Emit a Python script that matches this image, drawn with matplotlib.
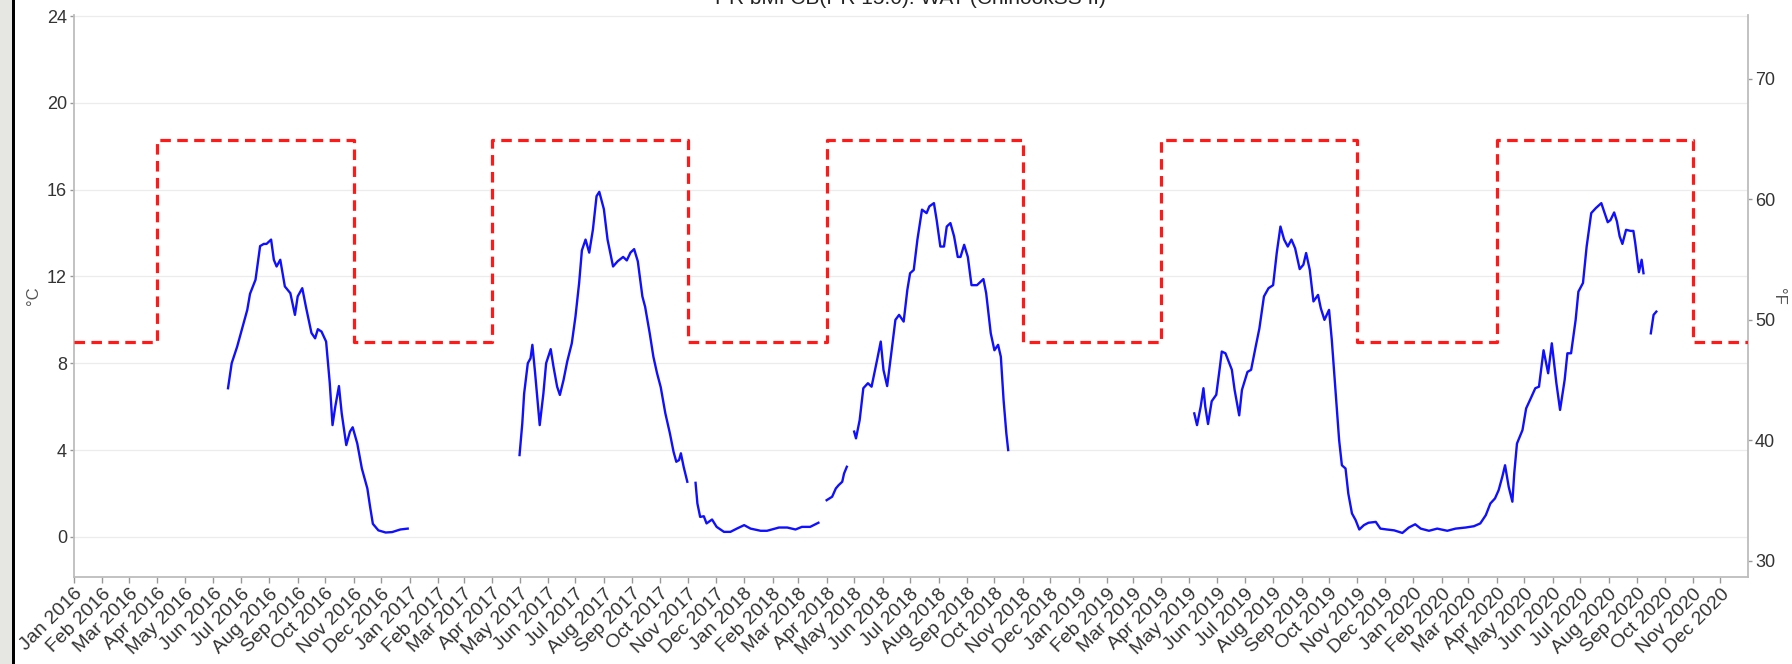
import matplotlib
matplotlib.use("Agg")
import matplotlib.pyplot as plt
import matplotlib.dates as mdates
from matplotlib.patches import Rectangle
import numpy as np
import pandas as pd

plt.rcParams["font.family"] = ["Liberation Sans", "DejaVu Sans"]

title = "PR bMI CB(PR 15.0): WAT (ChinookSS II)"

# water temperature (deg C), one list per unbroken record
wat_2016_dates = ["2016-06-17", "2016-06-21", "2016-06-27", "2016-07-02", "2016-07-08", "2016-07-11",
                  "2016-07-17", "2016-07-22", "2016-07-26", "2016-07-29", "2016-08-03", "2016-08-06",
                  "2016-08-09", "2016-08-13", "2016-08-18", "2016-08-24", "2016-08-29", "2016-09-01",
                  "2016-09-06", "2016-09-10", "2016-09-16", "2016-09-20", "2016-09-23", "2016-09-27",
                  "2016-10-02", "2016-10-06", "2016-10-09", "2016-10-12", "2016-10-16", "2016-10-19",
                  "2016-10-24", "2016-10-28", "2016-10-31", "2016-11-05", "2016-11-10", "2016-11-16",
                  "2016-11-19", "2016-11-22", "2016-11-28", "2016-12-06", "2016-12-13", "2016-12-22",
                  "2016-12-30"]
wat_2016_temp = [6.85, 8.0, 8.77, 9.54, 10.46, 11.2, 11.85, 13.4, 13.5, 13.5, 13.7, 12.77,
                 12.46, 12.77, 11.54, 11.23, 10.23, 11.08, 11.46, 10.6, 9.4, 9.15, 9.57, 9.46,
                 9.0, 7.08, 5.15, 6.0, 6.95, 5.7, 4.23, 4.85, 5.05, 4.3, 3.15, 2.23,
                 1.38, 0.6, 0.3, 0.2, 0.22, 0.34, 0.38]

wat_2017_dates = ["2017-05-01", "2017-05-04", "2017-05-06", "2017-05-10", "2017-05-13", "2017-05-15",
                  "2017-05-18", "2017-05-23", "2017-05-27", "2017-05-30", "2017-06-04", "2017-06-07",
                  "2017-06-11", "2017-06-14", "2017-06-18", "2017-06-22", "2017-06-27", "2017-07-01",
                  "2017-07-05", "2017-07-08", "2017-07-12", "2017-07-16", "2017-07-20", "2017-07-24",
                  "2017-07-27", "2017-08-01", "2017-08-05", "2017-08-11", "2017-08-16", "2017-08-22",
                  "2017-08-26", "2017-08-30", "2017-09-03", "2017-09-07", "2017-09-12", "2017-09-15",
                  "2017-09-20", "2017-09-24", "2017-09-28", "2017-10-02", "2017-10-07", "2017-10-12",
                  "2017-10-16", "2017-10-19", "2017-10-22", "2017-10-24", "2017-10-27", "2017-10-31"]
wat_2017_temp = [3.77, 5.23, 6.6, 8.0, 8.23, 8.85, 7.54, 5.15, 6.6, 8.0, 8.65, 7.85,
                 6.92, 6.54, 7.23, 8.08, 8.92, 10.15, 11.7, 13.2, 13.7, 13.1, 14.15, 15.7,
                 15.9, 15.1, 13.7, 12.46, 12.7, 12.9, 12.74, 13.1, 13.26, 12.7, 11.08, 10.6,
                 9.38, 8.3, 7.54, 6.9, 5.7, 4.77, 3.92, 3.46, 3.54, 3.85, 3.23, 2.54]

wat_winter18_dates = ["2017-11-09", "2017-11-11", "2017-11-14", "2017-11-18", "2017-11-21", "2017-11-27",
                      "2017-12-02", "2017-12-10", "2017-12-17", "2017-12-24", "2018-01-01", "2018-01-08",
                      "2018-01-19", "2018-01-26", "2018-02-08", "2018-02-17", "2018-02-26", "2018-03-05",
                      "2018-03-14", "2018-03-23"]
wat_winter18_temp = [2.49, 1.54, 0.92, 0.95, 0.62, 0.8, 0.46, 0.23, 0.23, 0.38, 0.54, 0.38,
                     0.28, 0.28, 0.43, 0.43, 0.34, 0.46, 0.46, 0.65]

wat_apr18_dates = ["2018-04-01", "2018-04-07", "2018-04-11", "2018-04-14", "2018-04-18", "2018-04-20",
                   "2018-04-23"]
wat_apr18_temp = [1.69, 1.85, 2.23, 2.38, 2.54, 2.92, 3.23]

wat_2018_dates = ["2018-05-01", "2018-05-03", "2018-05-07", "2018-05-11", "2018-05-16", "2018-05-20",
                  "2018-05-26", "2018-05-30", "2018-06-02", "2018-06-06", "2018-06-10", "2018-06-15",
                  "2018-06-19", "2018-06-24", "2018-06-28", "2018-07-01", "2018-07-05", "2018-07-09",
                  "2018-07-14", "2018-07-19", "2018-07-22", "2018-07-27", "2018-07-30", "2018-08-03",
                  "2018-08-07", "2018-08-10", "2018-08-14", "2018-08-18", "2018-08-22", "2018-08-25",
                  "2018-08-29", "2018-09-02", "2018-09-06", "2018-09-12", "2018-09-19", "2018-09-22",
                  "2018-09-27", "2018-10-01", "2018-10-05", "2018-10-08", "2018-10-11", "2018-10-14",
                  "2018-10-16"]
wat_2018_temp = [4.85, 4.54, 5.38, 6.85, 7.08, 6.92, 8.15, 9.0, 7.69, 6.95, 8.3, 10.0,
                 10.23, 9.92, 11.38, 12.15, 12.3, 13.7, 15.08, 14.92, 15.23, 15.38, 14.6, 13.38,
                 13.38, 14.3, 14.46, 13.85, 12.9, 12.9, 13.46, 12.9, 11.6, 11.6, 11.88, 11.23,
                 9.38, 8.6, 8.85, 8.3, 6.3, 4.77, 4.0]

wat_2019_dates = ["2019-05-07", "2019-05-10", "2019-05-14", "2019-05-17", "2019-05-19", "2019-05-22",
                  "2019-05-26", "2019-05-31", "2019-06-04", "2019-06-06", "2019-06-10", "2019-06-17",
                  "2019-06-20", "2019-06-25", "2019-06-28", "2019-07-04", "2019-07-08", "2019-07-13",
                  "2019-07-17", "2019-07-22", "2019-07-27", "2019-08-01", "2019-08-05", "2019-08-09",
                  "2019-08-13", "2019-08-17", "2019-08-21", "2019-08-25", "2019-08-30", "2019-09-03",
                  "2019-09-06", "2019-09-10", "2019-09-14", "2019-09-19", "2019-09-22", "2019-09-26",
                  "2019-10-01", "2019-10-04", "2019-10-08", "2019-10-12", "2019-10-15", "2019-10-19",
                  "2019-10-22", "2019-10-26", "2019-10-30", "2019-11-03", "2019-11-08", "2019-11-13",
                  "2019-11-21", "2019-11-26", "2019-12-03", "2019-12-11", "2019-12-20", "2019-12-27",
                  "2020-01-03", "2020-01-09", "2020-01-18", "2020-01-27", "2020-02-07", "2020-02-16",
                  "2020-02-27", "2020-03-07", "2020-03-14", "2020-03-20", "2020-03-25", "2020-03-30",
                  "2020-04-03", "2020-04-07", "2020-04-10", "2020-04-14", "2020-04-18", "2020-04-20",
                  "2020-04-23", "2020-04-29", "2020-05-03", "2020-05-08", "2020-05-13", "2020-05-17",
                  "2020-05-22", "2020-05-27", "2020-05-31", "2020-06-05", "2020-06-09", "2020-06-14",
                  "2020-06-17", "2020-06-21", "2020-06-26", "2020-06-29", "2020-07-04", "2020-07-08",
                  "2020-07-13", "2020-07-18", "2020-07-24", "2020-07-27", "2020-07-31", "2020-08-03",
                  "2020-08-07", "2020-08-10", "2020-08-13", "2020-08-16", "2020-08-20", "2020-08-25",
                  "2020-08-28", "2020-08-30", "2020-09-03", "2020-09-06", "2020-09-08"]
wat_2019_temp = [5.69, 5.15, 6.0, 6.85, 6.0, 5.2, 6.25, 6.55, 7.85, 8.54, 8.46, 7.7,
                 6.77, 5.6, 6.77, 7.6, 7.7, 8.77, 9.6, 11.08, 11.46, 11.6, 13.1, 14.3,
                 13.7, 13.38, 13.7, 13.3, 12.34, 12.54, 13.08, 12.3, 10.85, 11.15, 10.54, 10.0,
                 10.46, 9.08, 6.77, 4.46, 3.3, 3.15, 2.0, 1.08, 0.77, 0.34, 0.54, 0.65,
                 0.69, 0.38, 0.34, 0.3, 0.18, 0.43, 0.58, 0.38, 0.28, 0.38, 0.28, 0.38,
                 0.43, 0.49, 0.62, 1.0, 1.54, 1.77, 2.15, 2.77, 3.3, 2.3, 1.62, 2.92,
                 4.3, 4.92, 5.92, 6.38, 6.85, 6.92, 8.6, 7.54, 8.92, 7.08, 5.85, 7.23,
                 8.46, 8.46, 10.0, 11.3, 11.7, 13.38, 14.92, 15.15, 15.38, 15.0, 14.5, 14.6,
                 14.95, 14.54, 13.85, 13.5, 14.15, 14.1, 14.1, 13.54, 12.2, 12.77, 12.15]

wat_sep20_dates = ["2020-09-16", "2020-09-19", "2020-09-22"]
wat_sep20_temp = [9.38, 10.23, 10.38]

# seasonal criterion (deg C), steps at Apr 1 / Nov 1
crit_dates = ["2016-01-01", "2016-04-01", "2016-11-01", "2017-04-01", "2017-11-01", "2018-04-01",
              "2018-11-01", "2019-04-01", "2019-11-01", "2020-04-01", "2020-11-01", "2021-01-01"]
crit_temp = [9.0, 18.3, 9.0, 18.3, 9.0, 18.3, 9.0, 18.3, 9.0, 18.3, 9.0, 9.0]

segments = [
    (wat_2016_dates, wat_2016_temp),
    (wat_2017_dates, wat_2017_temp),
    (wat_winter18_dates, wat_winter18_temp),
    (wat_apr18_dates, wat_apr18_temp),
    (wat_2018_dates, wat_2018_temp),
    (wat_2019_dates, wat_2019_temp),
    (wat_sep20_dates, wat_sep20_temp),
]

W, H = 1792, 664
fig = plt.figure(figsize=(W / 100, H / 100), dpi=100)
fig.patch.set_facecolor("white")
ax = fig.add_axes([74 / W, 1 - 577 / H, (1748 - 74) / W, (577 - 15) / H])

# grey strip + black rule on the left edge of the screenshot
fig.patches.append(Rectangle((0, 0), 12 / W, 1, transform=fig.transFigure,
                             facecolor="#e6e7e3", edgecolor="none"))
fig.patches.append(Rectangle((12 / W, 0), 3 / W, 1, transform=fig.transFigure,
                             facecolor="black", edgecolor="none"))

ax.plot(pd.to_datetime(crit_dates), crit_temp, drawstyle="steps-post", color="#ff1a1a",
        lw=2.3, dashes=(3.3, 2.0), zorder=3)

for d, t in segments:
    ax.plot(pd.to_datetime(d), t, color="#1010ff", lw=1.7, zorder=4)

ax.set_xlim(pd.Timestamp("2016-01-01"), pd.Timestamp("2020-12-31"))
ax.set_ylim(-1.85, 24.05)
ax.set_yticks(np.arange(0, 25, 4))
ax.grid(axis="y", color="#ececec", lw=0.9)
ax.set_axisbelow(True)

ax.xaxis.set_major_locator(mdates.MonthLocator())
ax.xaxis.set_major_formatter(mdates.DateFormatter("%b %Y"))
for lab in ax.get_xticklabels():
    lab.set_rotation(45)
    lab.set_ha("right")
    lab.set_rotation_mode("anchor")

grey = "#bdbdbd"
ax.spines["top"].set_visible(False)
for s in ["left", "right", "bottom"]:
    ax.spines[s].set_color(grey)
    ax.spines[s].set_linewidth(1.3)

ax.tick_params(axis="y", colors="#333333", labelsize=13, length=3, width=1, color="#999999", pad=2)
ax.tick_params(axis="x", colors="#333333", labelsize=14, length=4, width=1, color="#999999", pad=2)
ax.set_ylabel("°C", fontsize=12, color="#555555", labelpad=4)

sec = ax.secondary_yaxis("right", functions=(lambda c: c * 9 / 5 + 32, lambda f: (f - 32) * 5 / 9))
sec.set_yticks([30, 40, 50, 60, 70])
sec.spines["right"].set_visible(False)
sec.tick_params(colors="#333333", labelsize=13, length=3, width=1, color="#999999", pad=2)
sec.set_ylabel("°F", fontsize=12, color="#555555", rotation=270, labelpad=8)

fig.text(910 / W, 1 - 4 / H, title, ha="center", va="baseline", fontsize=15, color="#222222")

fig.savefig("out.png", dpi=100)
